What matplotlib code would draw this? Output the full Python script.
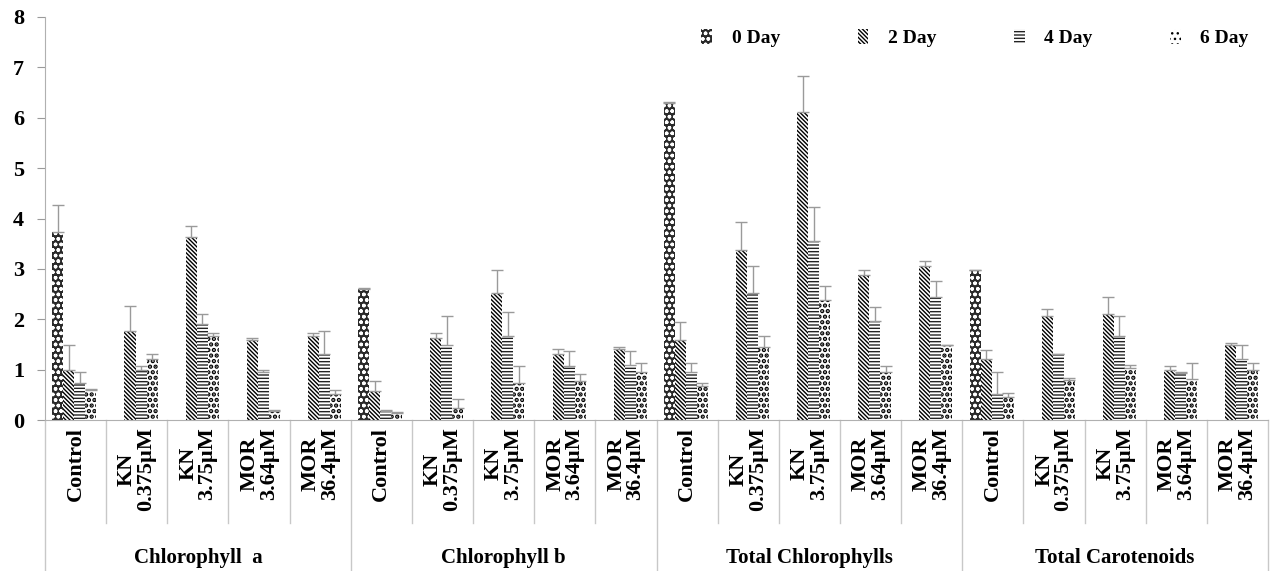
import numpy as np
import matplotlib
matplotlib.use("Agg")
import matplotlib.pyplot as plt

plt.rcParams['font.family'] = ['Liberation Serif', 'DejaVu Serif']
plt.rcParams['font.weight'] = 'bold'

pigments = ["Chlorophyll  a", "Chlorophyll b", "Total Chlorophylls", "Total Carotenoids"]
treatments = ["Control", "KN\n0.375µM", "KN\n3.75µM", "MOR\n3.64µM", "MOR\n36.4µM"]
days = ["0 Day", "2 Day", "4 Day", "6 Day"]

nan = np.nan
# means, 5 treatments per pigment (Chl a, Chl b, Total Chl, Carotenoids)
day0 = [3.73, nan, nan, nan, nan,
        2.61, nan, nan, nan, nan,
        6.30, nan, nan, nan, nan,
        2.97, nan, nan, nan, nan]
day2 = [0.99, 1.76, 3.64, 1.59, 1.67,
        0.58, 1.62, 2.52, 1.31, 1.40,
        1.58, 3.37, 6.11, 2.88, 3.06,
        1.21, 2.07, 2.11, 0.99, 1.48]
day4 = [0.74, 0.99, 1.90, 0.96, 1.32,
        0.17, 1.49, 1.67, 1.08, 1.09,
        0.96, 2.52, 3.56, 1.97, 2.45,
        0.52, 1.31, 1.66, 0.93, 1.22]
day6 = [0.59, 1.21, 1.67, 0.18, 0.51,
        0.13, 0.23, 0.73, 0.78, 0.96,
        0.68, 1.45, 2.39, 0.95, 1.48,
        0.45, 0.79, 1.04, 0.82, 0.99]

# standard deviations
sd0 = [0.54, nan, nan, nan, nan,
       0.01, nan, nan, nan, nan,
       0.01, nan, nan, nan, nan,
       0.01, nan, nan, nan, nan]
sd2 = [0.49, 0.50, 0.22, 0.03, 0.05,
       0.20, 0.10, 0.45, 0.09, 0.05,
       0.36, 0.56, 0.72, 0.09, 0.09,
       0.18, 0.13, 0.33, 0.08, 0.04]
sd4 = [0.21, 0.08, 0.21, 0.04, 0.44,
       0.02, 0.58, 0.48, 0.28, 0.27,
       0.17, 0.54, 0.67, 0.28, 0.30,
       0.43, 0.01, 0.41, 0.02, 0.26]
sd6 = [0.02, 0.11, 0.05, 0.02, 0.09,
       0.02, 0.19, 0.35, 0.13, 0.18,
       0.05, 0.22, 0.27, 0.13, 0.01,
       0.09, 0.04, 0.05, 0.31, 0.14]

series = [day0, day2, day4, day6]
errors = [sd0, sd2, sd4, sd6]
styles = [dict(facecolor='#2a2a2a', edgecolor='white', hatch='ooo'),
          dict(facecolor='white', edgecolor='black', hatch='\\' * 8),
          dict(facecolor='white', edgecolor='#222222', hatch='-----'),
          dict(facecolor='white', edgecolor='black', hatch='...')]
hatch_lw = [1.0, 1.0, 1.0, 2.2]

fig = plt.figure(figsize=(12.78, 5.71), dpi=100)
ax = fig.add_axes([45 / 1278, 1 - 420 / 571, 1223 / 1278, 403 / 571])

n = len(pigments) * len(treatments)
x = np.arange(n) + 0.48
w = 0.18
for k, (vals, sd, st) in enumerate(zip(series, errors, styles)):
    xs = x + (k - 1.5) * w
    with plt.rc_context({'hatch.linewidth': hatch_lw[k]}):
        ax.bar(xs, vals, w, linewidth=0, label=days[k], **st)
    lo = np.zeros(n)
    ax.errorbar(xs, vals, yerr=[lo, sd], fmt='none', ecolor='#9a9a9a',
                elinewidth=1, capsize=4, capthick=1)

ax.set_xlim(0, n)
ax.set_ylim(0, 8)
ax.set_yticks(range(9))
ax.tick_params(axis='y', length=6, color='#9a9a9a', pad=9, labelsize=16)
ax.set_xticks(np.arange(n) + 0.5)
ax.set_xticklabels(treatments * len(pigments), rotation=90, fontsize=16,
                   multialignment='center', linespacing=0.95)
ax.tick_params(axis='x', length=0, pad=5)
for s in ['top', 'right']:
    ax.spines[s].set_visible(False)
for s in ['left', 'bottom']:
    ax.spines[s].set_color('#b0b0b0')

# category table lines below the axis
tr = ax.get_xaxis_transform()
for i in range(n + 1):
    bottom = -0.375 if i % 5 == 0 else -0.256
    ax.plot([i, i], [0, bottom], color='#c8c8c8', lw=1, transform=tr, clip_on=False)
for j, name in enumerate(pigments):
    ax.text(j * 5 + 2.5, -0.343, name, transform=tr, ha='center', va='center',
            fontsize=15)

ax.legend(loc='center', bbox_to_anchor=(975 / 1278, 1 - 38 / 571),
          bbox_transform=fig.transFigure, ncol=4, frameon=False, fontsize=14,
          handlelength=0.55, handleheight=0.8, handletextpad=1.0, columnspacing=4.0)

fig.savefig("out.png", dpi=100)
